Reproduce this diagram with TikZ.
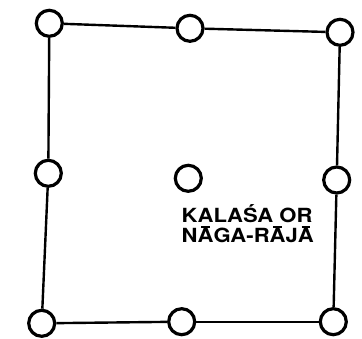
\documentclass[tikz,border=0pt]{standalone}
\usepackage{fontspec}
\setmainfont{TeX Gyre Heros}
% capital letter with a low, flat macron
\newcommand\lowmacron[1]{\setbox0\hbox{#1}\rlap{\hbox to\wd0{\hss\raisebox{14.4pt}{\rule{8.5pt}{2pt}}\hss}}\box0}
\begin{document}
\begin{tikzpicture}[x=1pt,y=-1pt,
  post/.style={circle,draw=black,line width=3.2pt,minimum size=26pt,inner sep=0pt,fill=white},
  wall/.style={draw=black,line width=2.4pt},
  label/.style={anchor=base west,inner sep=0pt,font=\bfseries\fontsize{19.5}{20}\selectfont\addfontfeature{FakeStretch=1.13}}]
\useasboundingbox (0,0) rectangle (362,338);
% corner, edge and centre posts
\node[post] (tl) at (49.3,23.3) {};
\node[post] (tm) at (190,28.3) {};
\node[post] (tr) at (340,32.3) {};
\node[post] (ml) at (48.3,173.3) {};
\node[post] (c)  at (188.3,178.3) {};
\node[post] (mr) at (336.7,180) {};
\node[post] (bl) at (41.7,323.3) {};
\node[post] (bm) at (181.7,321.7) {};
\node[post] (br) at (333.3,321.7) {};
% enclosure
\draw[wall] (tl) -- (tm);
\draw[wall] (tm) -- (tr);
\draw[wall] (tr) -- (mr);
\draw[wall] (mr) -- (br);
\draw[wall] (br) -- (bm);
\draw[wall] (bm) -- (bl);
\draw[wall] (bl) -- (ml);
\draw[wall] (ml) -- (tl);
% caption of the centre post
\node[label] (t1) at (181.5,222) {KALAŚA OR};
\node[label] (t2) at (181.5,242) {N\lowmacron{A}GA-R\lowmacron{A}J\lowmacron{A}};
\end{tikzpicture}
\end{document}
